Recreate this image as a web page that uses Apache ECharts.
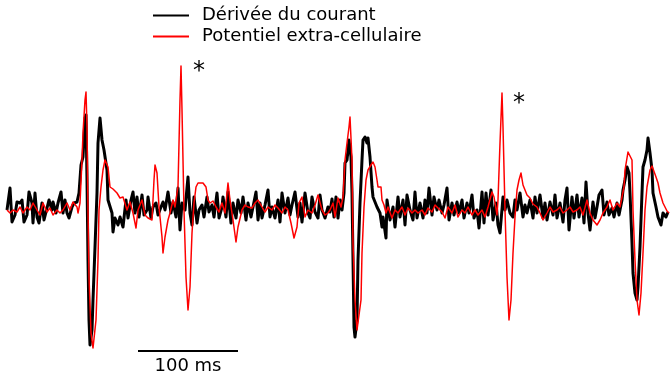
<!DOCTYPE html>
<html>
<head>
<meta charset="utf-8">
<script src="https://cdn.jsdelivr.net/npm/echarts@6/dist/echarts.min.js"></script>
<style>
  html, body { margin: 0; padding: 0; background: #fff; }
  #chart { width: 670px; height: 373px; }
</style>
</head>
<body>
<div id="chart"></div>
<script>
// [temps (ms), amplitude (u.a.)]
const derivee = [
  [7,1],[10,23],[12,-11],[15,-4],[17,9],[20,8],[22,11],[24,-11],[27,-4],[29,19],[32,8],[33,-12],[35,18],[37,-6],[39,-12],
  [42,8],[44,-9],[47,3],[49,11],[52,1],[53,9],[56,-2],[58,8],[61,19],[63,-2],[65,11],[67,-2],[69,-7],[72,4],[74,8],[77,9],
  [79,18],[81,46],[83,54],[85,93],[86,96],[87,31],[88,-49],[89,-109],[90,-134],[91,-136],[92,-119],[93,-89],[95,-36],
  [97,18],[98,68],[100,93],[102,71],[104,61],[107,41],[108,11],[112,-2],[113,-21],[115,-7],[118,-14],[120,-6],[123,-16],
  [126,11],[128,-7],[131,11],[133,19],[135,-2],[137,14],[139,-6],[142,16],[144,-4],[147,1],[148,14],[151,-7],[153,4],
  [156,8],[158,-4],[161,4],[163,9],[165,1],[168,19],[171,-2],[173,9],[176,-6],[178,23],[180,-19],[182,8],[185,1],[188,34],
  [190,-2],[192,-14],[194,14],[197,-12],[199,1],[202,6],[204,-6],[207,14],[209,-1],[212,6],[214,-6],[217,18],[219,-7],
  [222,4],[223,14],[226,-6],[228,19],[231,-12],[233,8],[236,-7],[238,11],[241,-2],[243,14],[246,-9],[248,8],[251,-6],
  [253,4],[256,19],[258,-9],[260,8],[262,-7],[265,6],[268,21],[270,-6],[272,4],[275,-7],[278,11],[280,-11],[282,18],
  [285,-2],[288,13],[290,-4],[292,6],[295,19],[298,-6],[300,8],[302,-11],[305,18],[308,-2],[310,-7],[312,14],[315,-1],
  [318,-7],[320,16],[322,1],[325,-7],[328,4],[330,-1],[332,12],[334,-6],[336,14],[338,-7],[340,11],[342,1],[344,18],
  [345,48],[347,51],[349,71],[351,54],[352,18],[353,-49],[354,-116],[355,-126],[357,-109],[358,-49],[360,8],[362,51],
  [363,71],[365,74],[367,68],[368,73],[370,54],[372,24],[373,14],[377,4],[380,-2],[382,-16],[383,-6],[386,-27],[387,11],
  [390,-9],[393,4],[395,-16],[398,14],[400,-6],[403,11],[405,-14],[407,16],[410,1],[413,-9],[415,19],[417,-7],[420,8],
  [423,-7],[425,11],[427,-2],[429,23],[432,-4],[434,14],[437,1],[439,11],[442,-2],[444,6],[447,23],[449,-9],[452,8],
  [454,-4],[457,9],[459,-2],[462,11],[464,-7],[467,8],[469,-2],[472,16],[474,-7],[477,1],[479,-17],[482,19],[484,-12],
  [486,18],[488,-4],[491,21],[493,-9],[496,8],[498,-14],[500,-22],[503,14],[505,1],[507,11],[510,-2],[513,-6],[515,11],
  [517,1],[520,18],[523,-6],[525,6],[527,-2],[530,11],[533,-7],[535,14],[537,-2],[540,16],[543,-7],[545,8],[547,-9],
  [550,9],[553,-4],[555,16],[557,-7],[560,8],[563,-11],[565,11],[567,23],[569,-19],[572,14],[574,-7],[577,16],[579,-6],
  [582,13],[584,-12],[586,29],[588,-2],[590,-19],[593,9],[595,-7],[597,4],[599,16],[602,21],[604,-4],[607,9],[609,-4],
  [612,3],[614,-6],[617,8],[619,-4],[622,11],[623,21],[625,31],[627,44],[629,38],[630,18],[632,-32],[633,-62],[635,-82],
  [637,-89],[638,-76],[640,-36],[642,18],[643,44],[645,51],[647,61],[648,73],[650,58],[652,41],[653,18],[656,4],[658,-6],
  [661,-14],[663,-2],[666,-6],[668,-1]
];

const potentiel = [
  [7,1],[10,-2],[13,1],[17,-1],[20,4],[23,-2],[27,4],[30,1],[33,8],[37,1],[40,-4],[43,8],[47,-1],[50,3],[53,-4],[57,1],
  [60,-2],[63,1],[67,8],[70,1],[73,9],[77,4],[78,-2],[80,8],[82,51],[83,78],[85,111],[86,119],[87,84],[88,1],[89,-66],
  [91,-122],[93,-137],[94,-139],[96,-109],[98,-49],[99,1],[101,24],[103,41],[105,51],[107,53],[108,44],[110,24],[113,22],
  [117,18],[120,13],[123,14],[127,1],[130,9],[133,-2],[136,-17],[138,1],[142,11],[145,-4],[148,-7],[152,-9],[154,31],
  [155,46],[157,38],[159,4],[162,-26],[163,-42],[165,-26],[168,-9],[170,-2],[173,11],[175,4],[177,18],[178,24],[180,111],
  [181,145],[182,101],[184,1],[186,-66],[188,-99],[190,-76],[192,-22],[194,8],[196,24],[198,28],[200,29],[203,28],
  [206,24],[208,11],[210,8],[213,10],[216,4],[219,-1],[222,8],[225,-2],[228,28],[230,11],[233,-9],[236,-31],[238,-16],
  [242,1],[245,6],[248,4],[252,3],[255,8],[258,11],[262,4],[265,-1],[268,4],[272,1],[275,6],[278,3],[282,-2],[285,4],
  [288,1],[291,-12],[294,-27],[297,-16],[299,8],[302,14],[305,-6],[308,1],[312,-2],[315,6],[318,16],[322,1],[325,-4],
  [328,-2],[330,1],[333,8],[335,-6],[338,13],[341,4],[343,14],[345,51],[347,68],[349,84],[350,94],[352,51],[353,-32],
  [355,-89],[357,-119],[359,-121],[361,-89],[362,-42],[364,4],[366,31],[368,41],[371,46],[373,49],[375,44],[377,31],
  [378,24],[381,24],[382,11],[384,6],[386,-2],[388,4],[392,-7],[395,1],[398,-2],[402,4],[405,-4],[408,3],[412,-2],
  [415,1],[418,-2],[422,1],[425,-4],[428,3],[432,-1],[435,6],[438,3],[442,-1],[445,-7],[448,4],[452,-2],[455,6],
  [458,-6],[462,1],[465,-2],[468,4],[472,-4],[475,1],[478,-4],[482,1],[485,-6],[488,4],[492,19],[494,14],[497,-4],
  [498,11],[500,68],[502,118],[503,84],[505,1],[507,-66],[509,-109],[511,-89],[513,-42],[515,-6],[517,21],[519,31],
  [521,38],[523,26],[525,24],[527,16],[530,13],[533,7],[537,4],[540,-2],[543,-9],[547,-2],[550,4],[553,-1],[557,1],
  [560,4],[563,-2],[567,1],[570,4],[573,-1],[577,1],[580,4],[583,-4],[587,11],[590,-2],[593,-9],[597,-14],[600,-9],
  [603,-2],[607,4],[610,11],[613,1],[617,8],[620,4],[622,14],[624,24],[625,41],[628,59],[630,61],[632,51],[633,1],
  [635,-49],[637,-89],[639,-104],[641,-82],[643,-42],[645,1],[647,24],[650,41],[652,45],[654,43],[656,34],[658,28],
  [660,18],[663,8],[665,4],[667,0],[669,-2]
];

// spikes marked with an asterisk
const etoiles = [[181,145],[502,118]];
// 100 ms scale bar
const echelle = { debut: 138, fin: 238, niveau: -140, texte: '100 ms' };

const chart = echarts.init(document.getElementById('chart'));
const font = 'DejaVu Sans';

chart.setOption({
  animation: false,
  grid: { left: 0, right: 0, top: 60, bottom: 13 },
  xAxis: { type: 'value', min: 0, max: 670, show: false },
  yAxis: { type: 'value', min: -149, max: 151, show: false },
  legend: {
    orient: 'vertical',
    left: 153,
    top: 5,
    itemWidth: 36,
    itemHeight: 2,
    itemGap: 0,
    padding: 0,
    icon: 'rect',
    textStyle: { fontFamily: font, fontSize: 18, color: '#000', lineHeight: 21, padding: [0, 0, 0, 8] },
    data: ['Dérivée du courant', 'Potentiel extra-cellulaire']
  },
  series: [
    {
      name: 'Dérivée du courant',
      type: 'line',
      data: derivee,
      symbol: 'none',
      color: '#000',
      lineStyle: { color: '#000', width: 3, join: 'round' },
      markLine: {
        silent: true,
        symbol: 'none',
        lineStyle: { color: '#000', width: 2, type: 'solid' },
        label: {
          show: true,
          position: 'insideMiddleBottom',
          distance: 6,
          formatter: echelle.texte,
          fontFamily: font, fontSize: 18, color: '#000'
        },
        data: [[{ coord: [echelle.debut, echelle.niveau] }, { coord: [echelle.fin, echelle.niveau] }]]
      }
    },
    {
      name: 'Potentiel extra-cellulaire',
      type: 'line',
      data: potentiel,
      symbol: 'none',
      color: '#ff0000',
      lineStyle: { color: '#ff0000', width: 1.5, join: 'round' },
      markPoint: {
        silent: true,
        symbol: 'circle',
        symbolSize: 0,
        label: {
          show: true,
          formatter: '*',
          fontFamily: font, fontSize: 24, color: '#000'
        },
        data: [
          { coord: etoiles[0], label: { offset: [18, 6] } },
          { coord: etoiles[1], label: { offset: [17, 11] } }
        ]
      }
    }
  ]
});
</script>
</body>
</html>
